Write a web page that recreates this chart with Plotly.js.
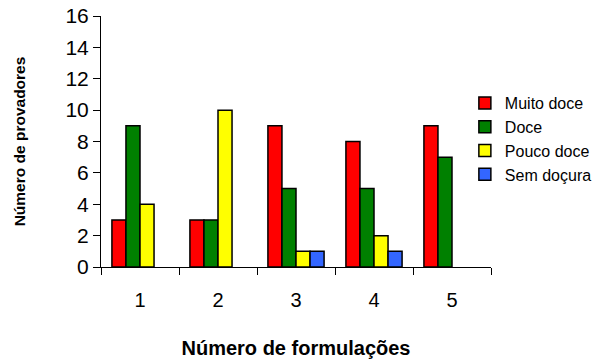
<!DOCTYPE html>
<html>
<head>
<meta charset="utf-8">
<script src="https://cdn.plot.ly/plotly-3.0.1.min.js"></script>
<style>
  html, body { margin: 0; padding: 0; background: #fff; }
  #chart { width: 613px; height: 362px; }
</style>
</head>
<body>
<div id="chart"></div>
<script>
// Formulations tested
const formulacoes = ['1', '2', '3', '4', '5'];

// Number of tasters per sweetness rating, per formulation
const muitoDoce = [3, 3, 9, 8, 9];
const doce      = [9, 3, 5, 5, 7];
const poucoDoce = [4, 10, 1, 2, 0];
const semDocura = [0, 0, 1, 1, 0];

const seriesNames  = ['Muito doce', 'Doce', 'Pouco doce', 'Sem doçura'];
const seriesValues = [muitoDoce, doce, poucoDoce, semDocura];
const seriesColors = ['#FF0000', '#008000', '#FFFF00', '#3366FF'];

const yTicks = [0, 2, 4, 6, 8, 10, 12, 14, 16];

// Zero counts are left empty so their outlines don't thicken the axis line
const traces = seriesNames.map((name, i) => ({
  type: 'bar',
  name: name,
  x: formulacoes,
  y: seriesValues[i].map(v => (v > 0 ? v : null)),
  marker: { color: seriesColors[i], line: { color: '#000000', width: 1.5 } },
  hoverinfo: 'x+y+name'
}));

const font = 'Arial, "Liberation Sans", sans-serif';

const layout = {
  width: 613,
  height: 362,
  margin: { l: 101, r: 122, t: 16, b: 95, pad: 0 },
  paper_bgcolor: '#ffffff',
  plot_bgcolor: '#ffffff',
  font: { family: font, color: '#000000', size: 16 },
  barmode: 'group',
  bargap: 0.28,
  bargroupgap: 0,
  showlegend: true,
  legend: {
    x: 0.933, xanchor: 'left',
    y: 0.51, yanchor: 'middle',
    font: { family: font, size: 16, color: '#000000' },
    bgcolor: 'rgba(0,0,0,0)',
    tracegroupgap: 0
  },
  xaxis: {
    type: 'category',
    categoryorder: 'array',
    categoryarray: formulacoes,
    tickson: 'boundaries',
    ticks: 'outside',
    ticklen: 7,
    tickcolor: '#000000',
    tickwidth: 1,
    showline: true,
    linecolor: '#000000',
    linewidth: 1,
    showgrid: false,
    zeroline: false,
    ticklabelstandoff: 15,
    tickfont: { family: font, size: 20, color: '#000000' },
    automargin: false,
    title: {
      text: '<b>Número de formulações</b>',
      font: { family: font, size: 20, color: '#000000' },
      standoff: 30
    }
  },
  yaxis: {
    range: [0, 16],
    tickvals: yTicks,
    ticktext: yTicks.map(String),
    ticks: 'outside',
    ticklen: 7,
    tickcolor: '#000000',
    tickwidth: 1,
    showline: true,
    linecolor: '#000000',
    linewidth: 1,
    showgrid: false,
    zeroline: false,
    ticklabelstandoff: 0,
    tickfont: { family: font, size: 21, color: '#000000' },
    automargin: false,
    title: {
      text: '<b>Número de provadores</b>',
      font: { family: font, size: 15.5, color: '#000000' },
      standoff: 36
    }
  }
};

Plotly.newPlot('chart', traces, layout, { displayModeBar: false, staticPlot: true });
</script>
</body>
</html>
